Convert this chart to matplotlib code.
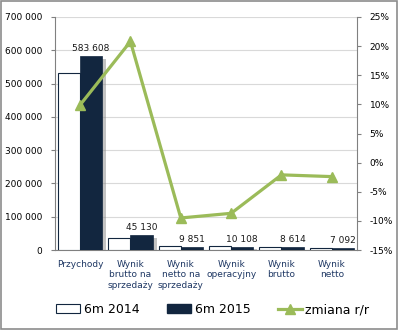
import matplotlib
matplotlib.use("Agg")
import matplotlib.pyplot as plt
import matplotlib.patheffects as pe
from matplotlib.patches import Patch
from matplotlib.ticker import FuncFormatter, MultipleLocator
import numpy as np

categories = ["Przychody", "Wynik\nbrutto na\nsprzedaży", "Wynik\nnetto na\nsprzedaży",
              "Wynik\noperacyjny", "Wynik\nbrutto", "Wynik\nnetto"]
v2014 = [531000, 37360, 10885, 11070, 8800, 7266]
v2015 = [583608, 45130, 9851, 10108, 8614, 7092]
change = [9.9, 20.8, -9.5, -8.7, -2.1, -2.4]
labels2015 = ["583 608", "45 130", "9 851", "10 108", "8 614", "7 092"]

plt.rcParams['font.family'] = ['DejaVu Sans']

fig = plt.figure(figsize=(3.98, 3.30), dpi=100)
ax = fig.add_axes([0.138, 0.2424, 0.759, 0.7061])

x = np.arange(len(categories))
w = 0.44
navy = "#12263f"
green = "#9bbb59"

b1 = ax.bar(x - w/2, v2014, w, color="white", edgecolor=navy, linewidth=0.8, zorder=3)
b2 = ax.bar(x + w/2, v2015, w, color=navy, edgecolor=navy, linewidth=0.5, zorder=3)
for r in b2:
    r.set_path_effects([pe.SimplePatchShadow(offset=(3, -2), shadow_rgbFace="#888888", alpha=0.5), pe.Normal()])

for xi, v, lab in zip(x, v2015, labels2015):
    ax.text(xi + w/2, v + 9000, lab, ha="center", va="bottom", fontsize=6.5, color="#1a1a1a")

ax.set_xlim(-0.5, len(categories) - 0.5)
ax.set_ylim(0, 700000)
ax.yaxis.set_major_locator(MultipleLocator(100000))
ax.yaxis.set_major_formatter(FuncFormatter(lambda v, p: f"{int(v):,}".replace(",", " ")))
ax.set_xticks(x)
ax.set_xticklabels(categories, fontsize=6.5, color="#1f3864", linespacing=1.25)
ax.tick_params(axis="x", length=0, pad=7)
ax.tick_params(axis="y", labelsize=6.5, length=3, color="#808080", pad=6)
ax.grid(axis="y", color="#d9d9d9", linewidth=0.8, zorder=0)
ax.set_axisbelow(True)
for s in ["top", "right"]:
    ax.spines[s].set_visible(False)
ax.spines["left"].set_color("#808080")
ax.spines["bottom"].set_color("#808080")

ax2 = ax.twinx()
ln, = ax2.plot(x, change, color=green, linewidth=2.3, marker="^", markersize=7,
               markerfacecolor=green, markeredgecolor=green, zorder=5)
ax2.set_ylim(-15, 25)
ax2.yaxis.set_major_locator(MultipleLocator(5))
ax2.yaxis.set_major_formatter(FuncFormatter(lambda v, p: f"{int(round(v))}%"))
ax2.tick_params(axis="y", labelsize=6.5, length=3, color="#808080", pad=6)
for s in ["top", "left", "bottom"]:
    ax2.spines[s].set_visible(False)
ax2.spines["right"].set_color("#808080")

h1 = Patch(facecolor="white", edgecolor=navy, linewidth=0.8)
h2 = Patch(facecolor=navy, edgecolor=navy)
fig.legend([h1, h2, ln], ["6m 2014", "6m 2015", "zmiana r/r"], loc="center",
           bbox_to_anchor=(0.535, 0.062), ncol=3, frameon=False, fontsize=9,
           handlelength=1.9, handletextpad=0.3, columnspacing=2.2)

fig.patches.append(plt.Rectangle((0.0025, 0.003), 0.995, 0.994, transform=fig.transFigure,
                                 fill=False, edgecolor="#8c8c8c", linewidth=1.2))
fig.savefig("out.png", dpi=100)
